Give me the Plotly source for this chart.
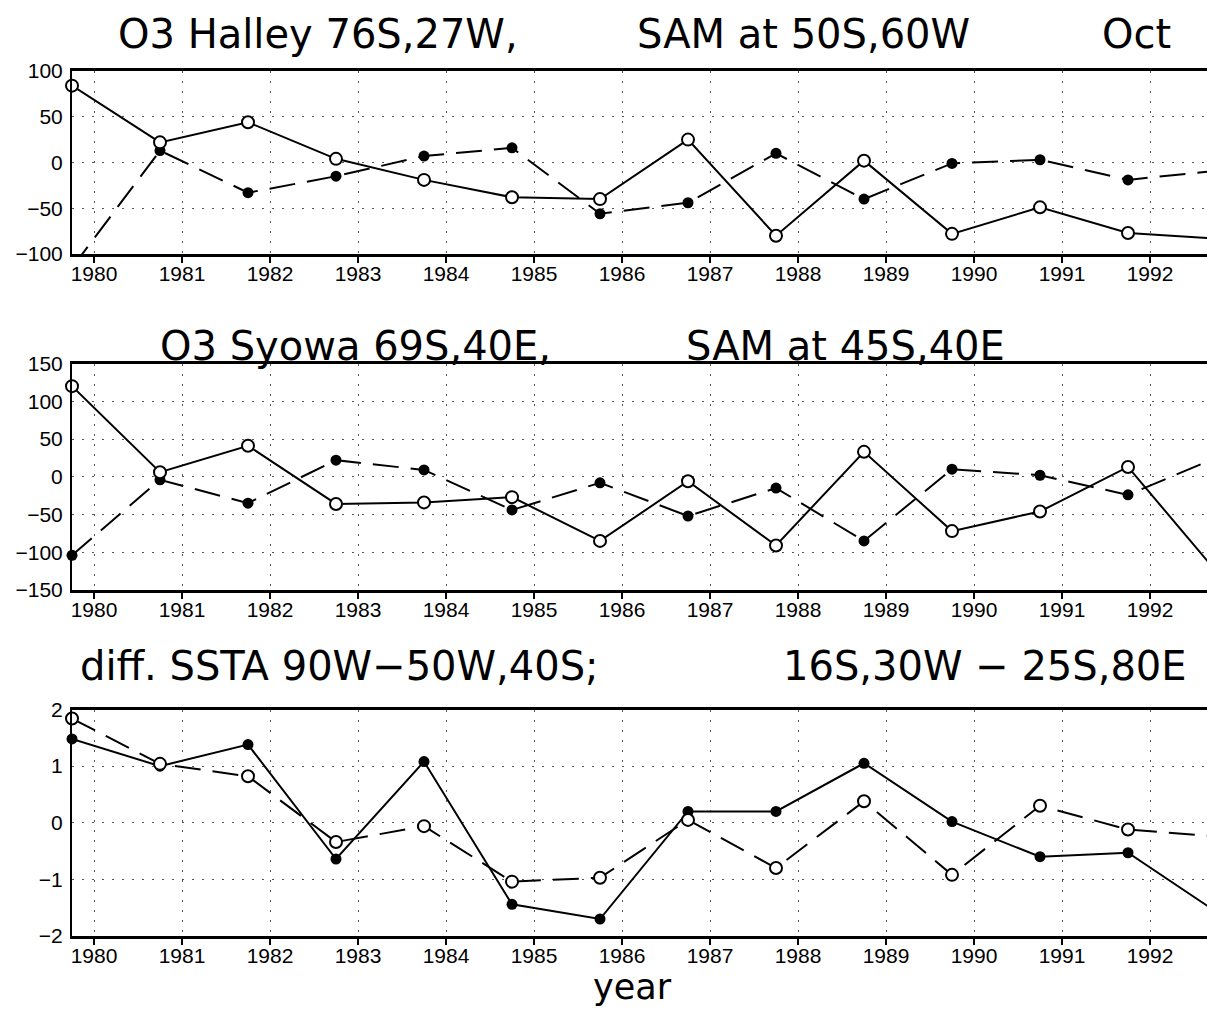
import plotly.graph_objects as go

W, H = 1207, 1009
ML = 72

# x positions: October of each year (fractional years)
years = [1979, 1980, 1981, 1982, 1983, 1984, 1985, 1986, 1987, 1988, 1989, 1990, 1991, 1992]
oct_offset = 0.75
x_vals = [y + oct_offset for y in years]
tick_years = list(range(1980, 1993))

# Panel 1: O3 Halley (solid, open circles) and SAM 50S,60W (dashed, filled)
halley_o3 = [84, 22, 44, 4, -19, -38, -40, 25, -80, 2, -78, -49, -77, -83]
sam_50s60w = [-115, 13, -33, -15, 7, 16, -56, -44, 10, -40, -1, 3, -19, -9]

# Panel 2: O3 Syowa (solid, open circles) and SAM 45S,40E (dashed, filled)
syowa_o3 = [120, 6, 41, -36, -34, -27, -85, -6, -91, 33, -72, -46, 13, -125]
sam_45s40e = [-104, -4, -35, 22, 9, -44, -8, -52, -15, -85, 10, 2, -24, 25]

# Panel 3: diff. SSTA (solid, filled) and 16S,30W - 25S,80E (dashed, open)
ssta_diff = [1.48, 1.0, 1.38, -0.64, 1.08, -1.44, -1.70, 0.20, 0.20, 1.05, 0.02, -0.60, -0.53, -1.57]
ssta_16s30w_25s80e = [1.84, 1.04, 0.82, -0.34, -0.06, -1.04, -0.97, 0.05, -0.80, 0.38, -0.92, 0.30, -0.12, -0.24]

y_ticks1 = [-100, -50, 0, 50, 100]
y_ticks2 = [-150, -100, -50, 0, 50, 100, 150]
y_ticks3 = [-2, -1, 0, 1, 2]

panels = [
    dict(top=71, bot=254, yr=[-100, 100], yt=y_ticks1,
         solid=halley_o3, solid_open=True, dashed=sam_50s60w, dashed_open=False),
    dict(top=363.5, bot=590, yr=[-150, 150], yt=y_ticks2,
         solid=syowa_o3, solid_open=True, dashed=sam_45s40e, dashed_open=False),
    dict(top=709.5, bot=936, yr=[-2, 2], yt=y_ticks3,
         solid=ssta_diff, solid_open=False, dashed=ssta_16s30w_25s80e, dashed_open=True),
]

fig = go.Figure()

XTICKFONT = dict(family="Liberation Sans, Arial, sans-serif", size=21, color="black")
YTICKFONT = dict(family="Liberation Sans, Arial, sans-serif", size=21, color="black")
GRID = dict(showgrid=True, gridcolor="#555555", gridwidth=1, griddash="2px,8px")


def marker_for(vals, yr, is_open):
    sizes = [0 if (v < yr[0] or v > yr[1]) else (12 if is_open else 11) for v in vals]
    if is_open:
        return dict(symbol="circle", size=sizes, color="white", opacity=1,
                    line=dict(color="black", width=2))
    return dict(symbol="circle", size=sizes, color="black", opacity=1,
                line=dict(color="black", width=0))


for i, p in enumerate(panels, start=1):
    xa = "x" if i == 1 else f"x{i}"
    ya = "y" if i == 1 else f"y{i}"
    series = [
        (p["dashed"], "dash", p["dashed_open"]),
        (p["solid"], "solid", p["solid_open"]),
    ]
    series.sort(key=lambda s: s[2])
    for vals, dash, is_open in series:
        fig.add_trace(go.Scatter(
            x=x_vals, y=vals, mode="lines+markers",
            line=dict(color="black", width=2, dash="26px,12px" if dash == "dash" else "solid"),
            marker=marker_for(vals, p["yr"], is_open),
            cliponaxis=False, showlegend=False, xaxis=xa, yaxis=ya,
        ))
    d0 = 1 - p["bot"] / H
    d1 = 1 - p["top"] / H
    fig.update_layout(**{
        ("xaxis" if i == 1 else f"xaxis{i}"): dict(
            domain=[0, 1], range=[1979.75, 1979.75 + (W - ML) / 88.0],
            tickvals=tick_years, ticktext=[str(t) for t in tick_years],
            ticks="outside", ticklen=6, tickwidth=2, tickcolor="black",
            showline=True, linecolor="black", linewidth=3, mirror=True,
            zeroline=False, tickfont=XTICKFONT, anchor=ya, automargin=False,
            ticklabelstandoff=-7, **GRID,
        ),
        ("yaxis" if i == 1 else f"yaxis{i}"): dict(
            domain=[d0, d1], range=p["yr"], tickvals=p["yt"],
            ticks="", showline=True, linecolor="black", linewidth=2, mirror=False,
            zeroline=False, tickfont=YTICKFONT, anchor=xa, ticklabelstandoff=3,
            automargin=False, **GRID,
        ),
    })

TFONT = dict(family="DejaVu Sans, sans-serif", size=40, color="black")


def add_text(txt, px, py, anchor="left", size=40, yanchor="middle"):
    f = dict(TFONT)
    f["size"] = size
    fig.add_annotation(text=txt, xref="paper", yref="paper",
                       x=(px - ML) / (W - ML), y=1 - py / H,
                       xanchor=anchor, yanchor=yanchor, showarrow=False, font=f)


add_text("O3 Halley 76S,27W,", 116, 34)
add_text("SAM at 50S,60W", 635, 34)
add_text("Oct", 1100, 34)
add_text("O3 Syowa 69S,40E,", 158, 346)
add_text("SAM at 45S,40E", 684, 346)
add_text("diff. SSTA 90W−50W,40S;", 78, 666)
add_text("16S,30W − 25S,80E", 781, 666)
add_text("year", 632, 1009, anchor="center", size=35, yanchor="bottom")

fig.update_layout(
    width=W, height=H,
    margin=dict(l=ML, r=0, t=0, b=0, autoexpand=False),
    paper_bgcolor="white", plot_bgcolor="white",
    showlegend=False,
)

fig.write_html(
    "out.html",
    config={"displayModeBar": False},
    post_script=(
        "document.body.style.margin='0';"
        "document.body.style.overflow='hidden';"
    ),
)
